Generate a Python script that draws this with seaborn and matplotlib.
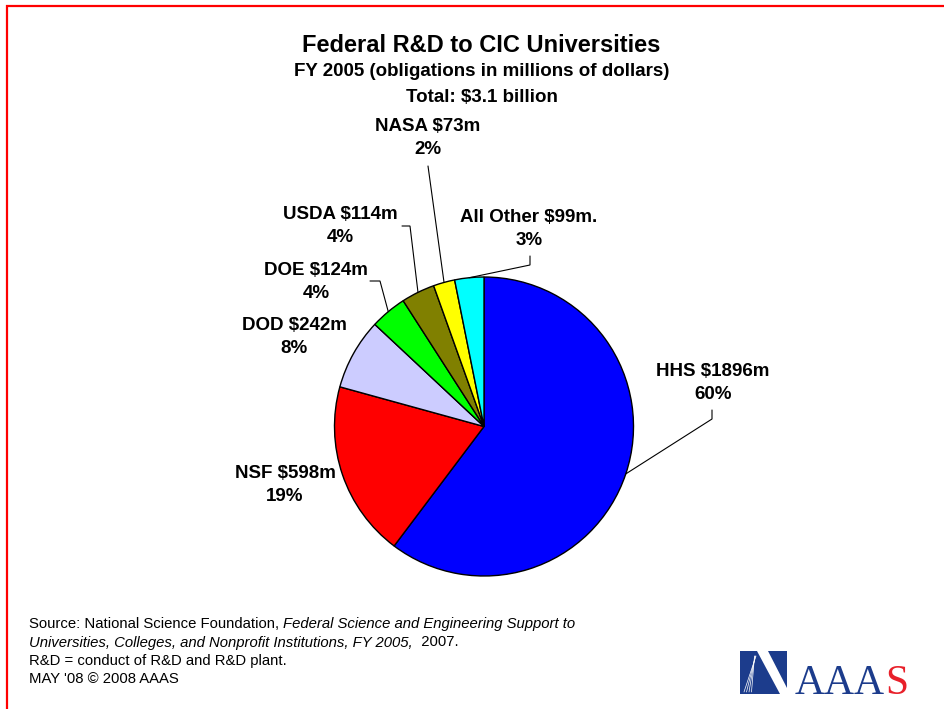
import matplotlib
matplotlib.use("Agg")
import matplotlib.pyplot as plt
from matplotlib.patches import Polygon, Rectangle
import numpy as np
import seaborn as sns

# ---------------- data ----------------
agencies = ["HHS", "NSF", "DOD", "DOE", "USDA", "NASA", "All Other"]
amounts = [1896, 598, 242, 124, 114, 73, 99]          # $ millions
label_suffix = ["", "", "", "", "", "", "."]
slice_colors = ["#0000FF", "#FF0000", "#CCCCFF", "#00FF00", "#808000", "#FFFF00", "#00FFFF"]

title = "Federal R&D to CIC Universities"
subtitle = "FY 2005 (obligations in millions of dollars)"
total_line = "Total: $3.1 billion"

# ---------------- style ----------------
sns.set_theme(style="white")
plt.rcParams["font.family"] = ["Liberation Sans", "DejaVu Sans"]
plt.rcParams["text.color"] = "black"

W, H = 945, 709
fig = plt.figure(figsize=(W / 100, H / 100), dpi=100)
ax = fig.add_axes([0, 0, 1, 1])


def Y(y):
    return H - y


cx, cy, R = 484, Y(426.5), 149.5
wedges, _ = ax.pie(amounts, colors=slice_colors, startangle=90, counterclock=False,
                   center=(cx, cy), radius=R,
                   wedgeprops=dict(edgecolor="black", linewidth=1.0))
ax.set_xlim(0, W)
ax.set_ylim(0, H)
ax.set_aspect("equal")
ax.axis("off")

total = sum(amounts)

# label layout (pixel coords, y down)
label_pos = {"HHS": (713, 383), "NSF": (285, 485), "DOD": (294, 337), "DOE": (316, 282),
             "USDA": (340, 226), "NASA": (428, 138), "All Other": (529, 229)}
leaders = {"HHS": [(712, 419), (712, 410)],
           "DOE": [(380, 281), (370, 281)],
           "USDA": [(410, 226), (402, 226)],
           "NASA": [(428, 166)],
           "All Other": [(530, 265), (530, 256)]}

for w, name, a, suf in zip(wedges, agencies, amounts, label_suffix):
    pct = round(100 * a / total)
    lx, ly = label_pos[name]
    ax.text(lx, Y(ly), f"{name} ${a}m{suf}\n{pct}%", ha="center", va="center",
            fontsize=13.5, fontweight="bold", color="black", linespacing=1.45)
    if name in leaders:
        mid = np.deg2rad((w.theta1 + w.theta2) / 2)
        ex, ey = cx + R * np.cos(mid), cy + R * np.sin(mid)
        xs = [ex] + [p[0] for p in leaders[name]]
        ys = [ey] + [Y(p[1]) for p in leaders[name]]
        ax.plot(xs, ys, color="black", lw=0.8, solid_joinstyle="miter")

# titles
ax.text(481, Y(46), title, ha="center", va="center", fontsize=17, fontweight="bold", color="black")
ax.text(482, Y(72), subtitle, ha="center", va="center", fontsize=13.5, fontweight="bold", color="black")
ax.text(482, Y(97), total_line, ha="center", va="center", fontsize=13.5, fontweight="bold", color="black")

# red frame
ax.plot([6, W + 5], [Y(6), Y(6)], color="#FF0000", lw=1.6, clip_on=False, solid_capstyle="butt")
ax.plot([6.8, 6.8], [Y(5.2), -5], color="#FF0000", lw=1.6, clip_on=False, solid_capstyle="butt")

# source notes
fig.canvas.draw()
renderer = fig.canvas.get_renderer()
fs = 10.7


def chain(pieces, x0, ybase):
    x = x0
    for txt, style in pieces:
        t = ax.text(x, Y(ybase), txt, ha="left", va="baseline", fontsize=fs,
                    fontstyle=style, color="black")
        bb = t.get_window_extent(renderer=renderer)
        x = bb.x1


chain([("Source: National Science Foundation, ", "normal"),
       ("Federal Science and Engineering Support to", "italic")], 29, 628)
chain([("Universities, Colleges, and Nonprofit Institutions, FY 2005,", "italic"),
       ("  2007.", "normal")], 29, 646.5)
chain([("R&D = conduct of R&D and R&D plant.", "normal")], 29, 665)
chain([("MAY '08 \u00a9 2008 AAAS", "normal")], 29, 683)

# AAAS logo
logo_blue = "#1c3c8c"
ax.add_patch(Rectangle((740, Y(694)), 47, 43, facecolor=logo_blue, edgecolor="none"))
ax.add_patch(Polygon([(757, Y(651)), (768, Y(651)), (787, Y(688)), (787, Y(694)), (780, Y(694))],
                     closed=True, facecolor="white", edgecolor="none"))
for dx in [0, 2.5, 5, 7.5]:
    ax.plot([756 - dx * 0.2, 744 + dx], [Y(656), Y(692)], color="white", lw=0.5)
t = ax.text(795, Y(694), "AAA", ha="left", va="baseline", fontsize=30,
            family="Liberation Serif", color=logo_blue)
bb = t.get_window_extent(renderer=renderer)
ax.text(bb.x1, Y(694), "S", ha="left", va="baseline", fontsize=30,
        family="Liberation Serif", color="#E8202A")

fig.savefig("out.png", dpi=100)
